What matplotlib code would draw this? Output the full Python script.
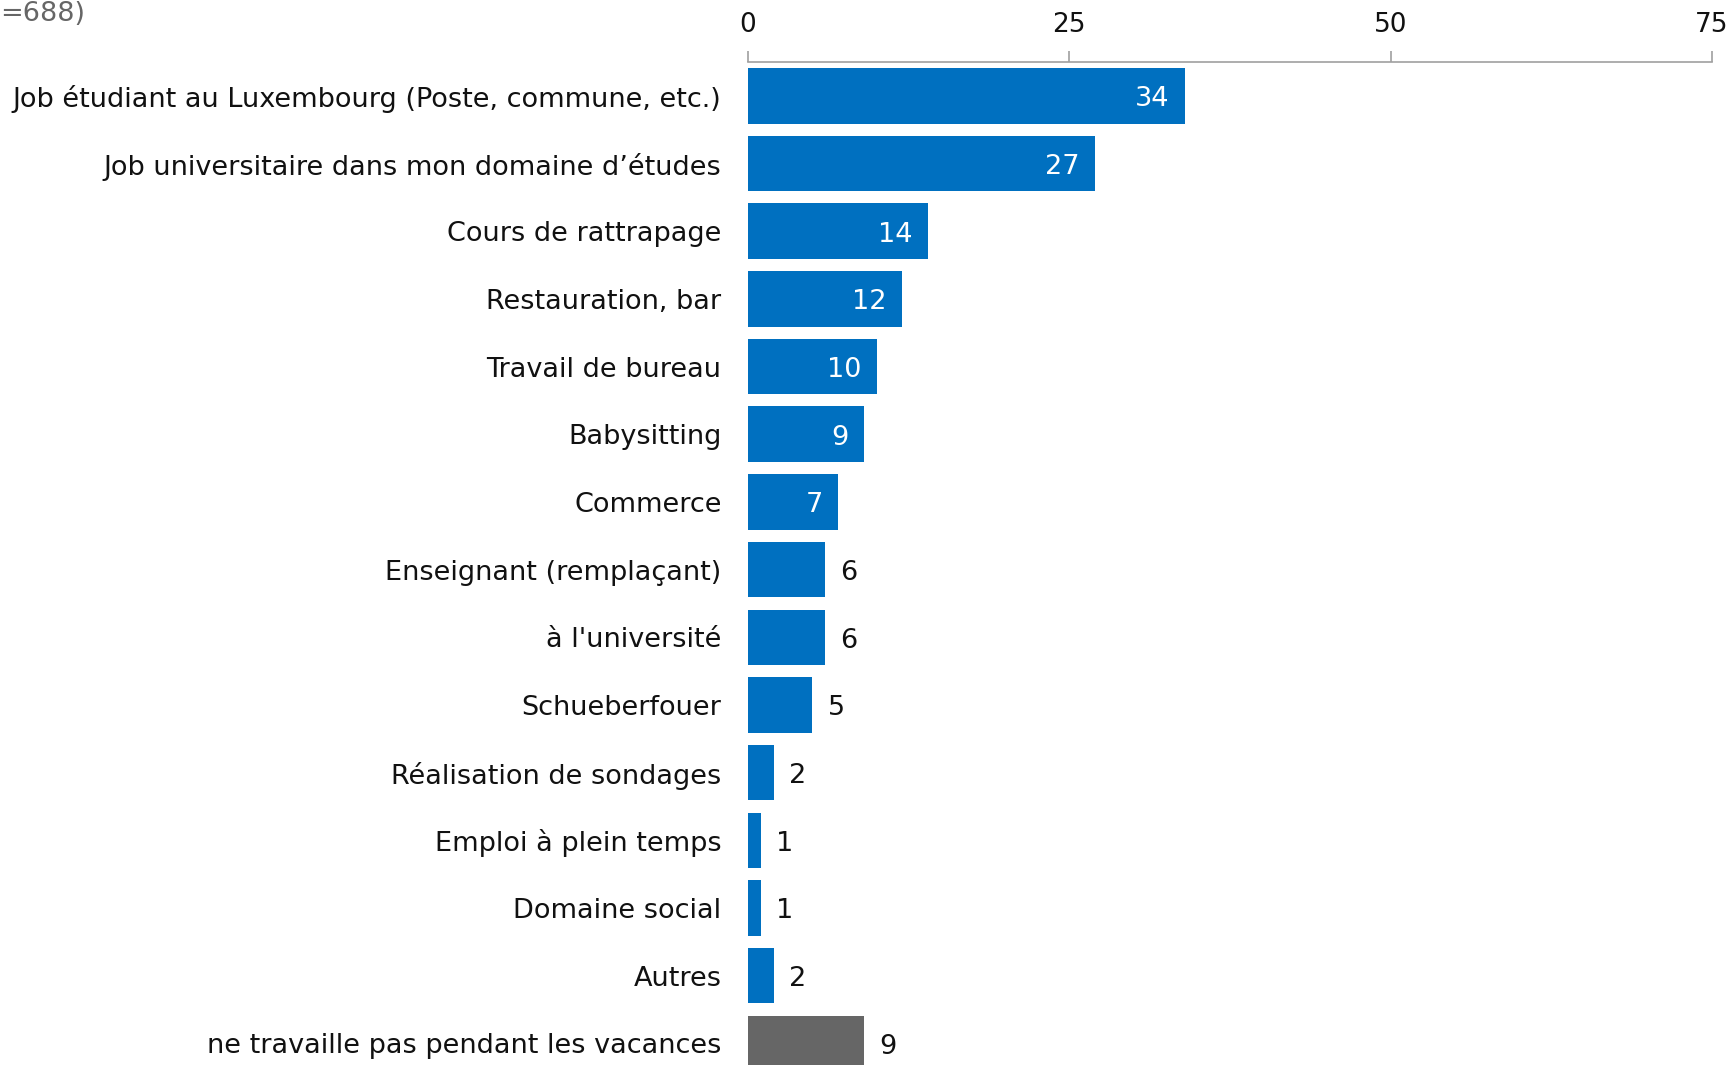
import matplotlib.pyplot as plt

# data
categories = ["Job étudiant au Luxembourg (Poste, commune, etc.)",
              "Job universitaire dans mon domaine d’études",
              "Cours de rattrapage",
              "Restauration, bar",
              "Travail de bureau",
              "Babysitting",
              "Commerce",
              "Enseignant (remplaçant)",
              "à l'université",
              "Schueberfouer",
              "Réalisation de sondages",
              "Emploi à plein temps",
              "Domaine social",
              "Autres",
              "ne travaille pas pendant les vacances"]
values = [34, 27, 14, 12, 10, 9, 7, 6, 6, 5, 2, 1, 1, 2, 9]
bar_colors = ["#0070C0"] * 14 + ["#666666"]
label_inside = [True] * 7 + [False] * 8
ticks = [0, 25, 50, 75]

plt.rcParams['font.family'] = ['DejaVu Sans']

fig = plt.figure(figsize=(17.33, 10.65), dpi=100)
ax = fig.add_axes([0.4316, 0.0, 0.5563, 0.9418])

ypos = list(range(len(categories)))
ax.barh(ypos, values, height=0.82, color=bar_colors)

ax.set_xlim(0, 75)
ax.set_ylim(14.32, -0.5)

ax.xaxis.tick_top()
ax.set_xticks(ticks)
ax.tick_params(axis='x', direction='out', length=8, width=1.2, color='#A0A0A0',
               labelsize=19, pad=9, labelcolor='#111111')
ax.set_yticks(ypos)
ax.set_yticklabels(categories, fontsize=19.5, color='#111111')
ax.tick_params(axis='y', length=0, pad=19)

for side in ['right', 'bottom', 'left']:
    ax.spines[side].set_visible(False)
ax.spines['top'].set_color('#A0A0A0')
ax.spines['top'].set_linewidth(1.2)

# value labels: white inside the long bars, dark outside the short ones
for y, v, inside in zip(ypos, values, label_inside):
    if inside:
        ax.annotate(str(v), (v, y), xytext=(-11, -2.5), textcoords='offset points',
                    ha='right', va='center', color='white', fontsize=19.5)
    else:
        ax.annotate(str(v), (v, y), xytext=(11, -2.5), textcoords='offset points',
                    ha='left', va='center', color='#111111', fontsize=19.5)

fig.text(0.0, 1 - 14 / 1065, "=688)", ha='left', va='center', fontsize=19.5, color='#666666')

fig.savefig('out.png', dpi=100)
